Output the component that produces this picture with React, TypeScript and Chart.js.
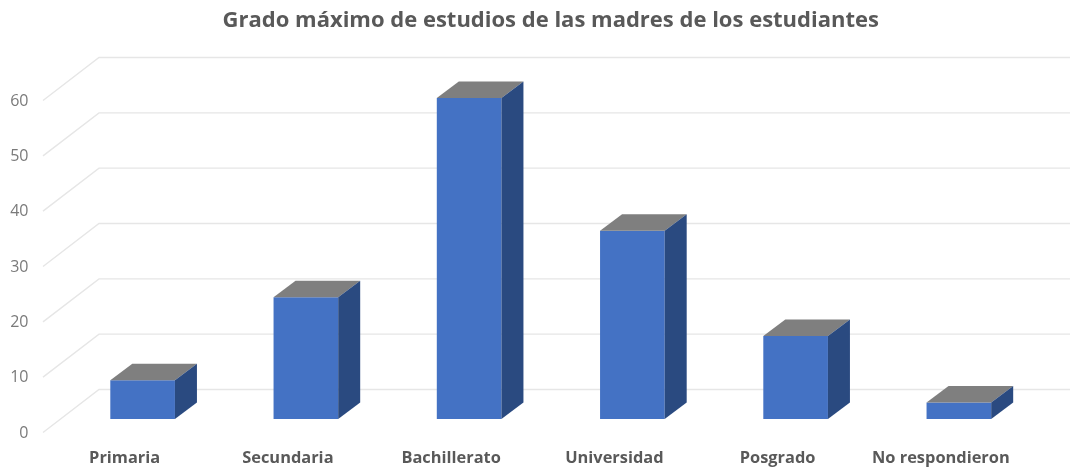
import React, { useEffect, useRef } from "react";
import { Chart, registerables } from "chart.js";

Chart.register(...registerables);

const categories = ["Primaria", "Secundaria", "Bachillerato", "Universidad", "Posgrado", "No respondieron"];
const values = [7, 22, 58, 34, 15, 3];
const titleText = "Grado máximo de estudios de las madres de los estudiantes";

const WALL_DY = -29.5;
const WALL_LEFT = 99;
const FLOOR_DX = -56;
const FLOOR_DY = 43;
const BAR_DX = 22;
const BAR_DY = -16.5;

const threeD = {
  id: "threeD",
  beforeDatasetsDraw(chart: any) {
    const { ctx, width } = chart;
    const y = chart.scales.y;
    ctx.save();
    ctx.strokeStyle = "#e6e6e6";
    ctx.lineWidth = 1.4;
    y.ticks.forEach((t: any) => {
      const by = y.getPixelForValue(t.value) + WALL_DY;
      ctx.beginPath();
      ctx.moveTo(WALL_LEFT + FLOOR_DX, by + FLOOR_DY);
      ctx.lineTo(WALL_LEFT, by);
      ctx.lineTo(width, by);
      ctx.stroke();
    });
    ctx.restore();
  },
  afterDatasetsDraw(chart: any) {
    const { ctx } = chart;
    const meta = chart.getDatasetMeta(0);
    ctx.save();
    meta.data.forEach((bar: any) => {
      const half = bar.width / 2;
      const l = bar.x - half;
      const r = bar.x + half;
      const t = bar.y;
      const b = bar.base;
      ctx.fillStyle = "#7f7f7f";
      ctx.beginPath();
      ctx.moveTo(l, t);
      ctx.lineTo(l + BAR_DX, t + BAR_DY);
      ctx.lineTo(r + BAR_DX, t + BAR_DY);
      ctx.lineTo(r, t);
      ctx.closePath();
      ctx.fill();
      ctx.fillStyle = "#2a4a80";
      ctx.beginPath();
      ctx.moveTo(r, t);
      ctx.lineTo(r + BAR_DX, t + BAR_DY);
      ctx.lineTo(r + BAR_DX, b + BAR_DY);
      ctx.lineTo(r, b);
      ctx.closePath();
      ctx.fill();
    });
    ctx.restore();
  },
};

export default function App() {
  const ref = useRef<HTMLCanvasElement>(null);
  useEffect(() => {
    const chart = new Chart(ref.current!, {
      type: "bar",
      data: {
        labels: categories,
        datasets: [{ data: values, backgroundColor: "#4472c4", barPercentage: 0.396, categoryPercentage: 1 }],
      },
      plugins: [threeD],
      options: {
        responsive: false,
        animation: false,
        layout: { padding: { left: 0, right: 29.5, top: 0, bottom: 0 } },
        plugins: {
          legend: { display: false },
          tooltip: { enabled: false },
          title: {
            display: true,
            text: titleText,
            fullSize: false,
            color: "#595959",
            font: { family: "Open Sans", size: 22, weight: "700" },
            padding: { top: 7.5, bottom: 53.1 },
          },
        },
        scales: {
          x: {
            grid: { display: false, drawTicks: false },
            border: { display: false },
            afterFit: (s: any) => { s.height = 48; },
            ticks: {
              color: "#595959",
              font: { family: "Open Sans", size: 16.4, weight: "700" },
              padding: 29.5,
              labelOffset: -18,
              maxRotation: 0,
              autoSkip: false,
            },
          },
          y: {
            min: 0,
            max: 60,
            grid: { display: false, drawTicks: false },
            border: { display: false },
            afterFit: (s: any) => { s.width = 61; },
            ticks: {
              stepSize: 10,
              color: "#7a7a7a",
              font: { family: "Open Sans", size: 16 },
              padding: 32.5,
              labelOffset: 14,
            },
          },
        },
      },
    } as any);
    return () => chart.destroy();
  }, []);
  return (
    <canvas
      ref={ref}
      width={1070}
      height={467}
      style={{ position: "absolute", left: 0, top: 0, background: "#fff" }}
    />
  );
}
